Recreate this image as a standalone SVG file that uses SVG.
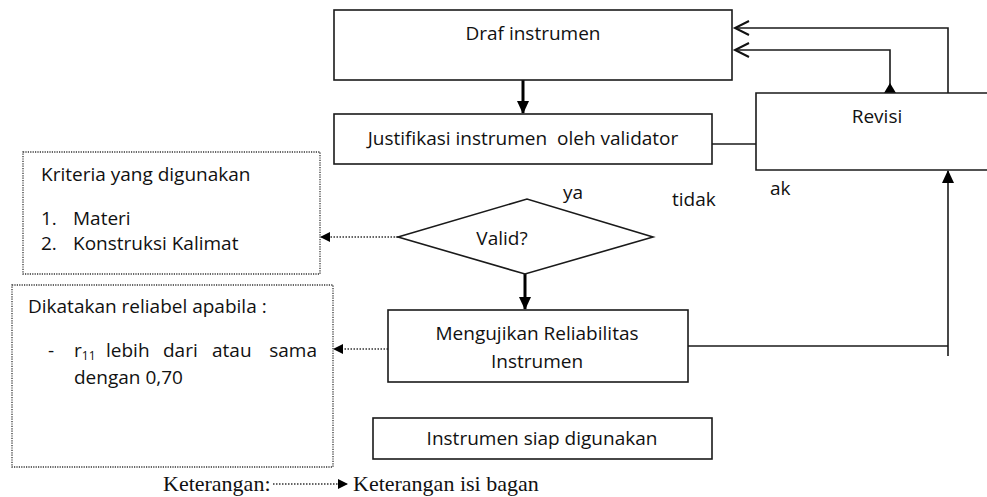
<svg xmlns="http://www.w3.org/2000/svg" width="987" height="497" viewBox="0 0 987 497">
<style>
.box{fill:#fff;stroke:#1a1a1a;stroke-width:1.6}
.dot{fill:#fff;stroke:#333;stroke-width:1.3;stroke-dasharray:1.2 1.2}
.t{font-family:"Open Sans","Noto Sans",sans-serif;font-size:19px;fill:#111}
.tm{font-family:"Liberation Serif","Times New Roman",serif;font-size:22px;fill:#111}
.ln{fill:none;stroke:#1a1a1a;stroke-width:1.6}
.thick{fill:none;stroke:#000;stroke-width:3}
.dl{fill:none;stroke:#333;stroke-width:1.6;stroke-dasharray:1.5 1.5}
</style>
<defs>
<marker id="fa" markerWidth="10" markerHeight="10" refX="9" refY="5" orient="auto" markerUnits="userSpaceOnUse">
<path d="M0,0 L10,5 L0,10 z" fill="#000"/>
</marker>
<marker id="fa2" markerWidth="14" markerHeight="14" refX="12" refY="7" orient="auto" markerUnits="userSpaceOnUse">
<path d="M0,1 L13,7 L0,13 z" fill="#000"/>
</marker>
<marker id="oa" markerWidth="18" markerHeight="16" refX="15" refY="8" orient="auto" markerUnits="userSpaceOnUse">
<path d="M1,1 L15,8 L1,15" fill="none" stroke="#111" stroke-width="2"/>
</marker>
</defs>

<g id="connectors">
<line class="thick" x1="523" y1="80" x2="523" y2="113" marker-end="url(#fa2)"/>
<line class="thick" x1="525" y1="274" x2="525" y2="309" marker-end="url(#fa2)"/>
<line class="ln" x1="712" y1="144" x2="756" y2="144"/>
<path class="ln" d="M948,93 V28 H735" marker-end="url(#oa)"/>
<path class="ln" d="M890,93 V50 H735" marker-end="url(#oa)"/>
<path d="M884,93 L890,83 L896,93 z" fill="#000"/>
<line class="ln" x1="688" y1="346" x2="948" y2="346"/>
<line class="ln" x1="948" y1="356" x2="948" y2="171" marker-end="url(#fa2)"/>
<line class="dl" x1="398" y1="237" x2="321" y2="237" marker-end="url(#fa)"/>
<line class="dl" x1="388" y1="349" x2="334" y2="349" marker-end="url(#fa)"/>
</g>

<g id="draf">
<rect class="box" x="334" y="10" width="398" height="70"/>
<text class="t" x="533" y="40" text-anchor="middle">Draf instrumen</text>
</g>

<g id="justifikasi">
<rect class="box" x="334" y="114" width="378" height="50"/>
<text class="t" x="523" y="145" text-anchor="middle" xml:space="preserve">Justifikasi instrumen  oleh validator</text>
</g>

<g id="revisi">
<path class="box" d="M990,93 H756 V170 H990"/>
<text class="t" x="877" y="123" text-anchor="middle">Revisi</text>
</g>

<g id="valid">
<polygon class="box" points="398,237 527,199 653,237 525,274"/>
<text class="t" x="502" y="245" text-anchor="middle" font-size="20">Valid?</text>
</g>

<g id="labels">
<text class="t" x="563" y="199">ya</text>
<text class="t" x="672" y="206">tidak</text>
<text class="t" x="770" y="195">ak</text>
</g>

<g id="kriteria">
<rect class="dot" x="23" y="152" width="297" height="122"/>
<text class="t" x="41" y="181">Kriteria yang digunakan</text>
<text class="t" x="41" y="225">1.</text>
<text class="t" x="73" y="225">Materi</text>
<text class="t" x="41" y="250">2.</text>
<text class="t" x="73" y="250">Konstruksi Kalimat</text>
</g>

<g id="uji">
<rect class="box" x="388" y="310" width="300" height="72"/>
<text class="t" x="537" y="340" text-anchor="middle">Mengujikan Reliabilitas</text>
<text class="t" x="537" y="368" text-anchor="middle">Instrumen</text>
</g>

<g id="reliabel">
<rect class="dot" x="12" y="285" width="321" height="182"/>
<text class="t" x="28" y="313">Dikatakan reliabel apabila :</text>
<text class="t" x="48" y="357">-</text>
<text class="t" x="74" y="357">r<tspan font-size="12" dy="3">11</tspan></text>
<text class="t" x="106" y="357">lebih</text>
<text class="t" x="163" y="357">dari</text>
<text class="t" x="212" y="357">atau</text>
<text class="t" x="317" y="357" text-anchor="end">sama</text>
<text class="t" x="74" y="384">dengan 0,70</text>
</g>

<g id="siap">
<rect class="box" x="373" y="418" width="339" height="41"/>
<text class="t" x="542" y="445" text-anchor="middle">Instrumen siap digunakan</text>
</g>

<g id="legend">
<text class="tm" x="163" y="491">Keterangan:</text>
<line class="dl" x1="273" y1="484" x2="347" y2="484" marker-end="url(#fa)"/>
<text class="tm" x="353" y="491">Keterangan isi bagan</text>
</g>
</svg>
